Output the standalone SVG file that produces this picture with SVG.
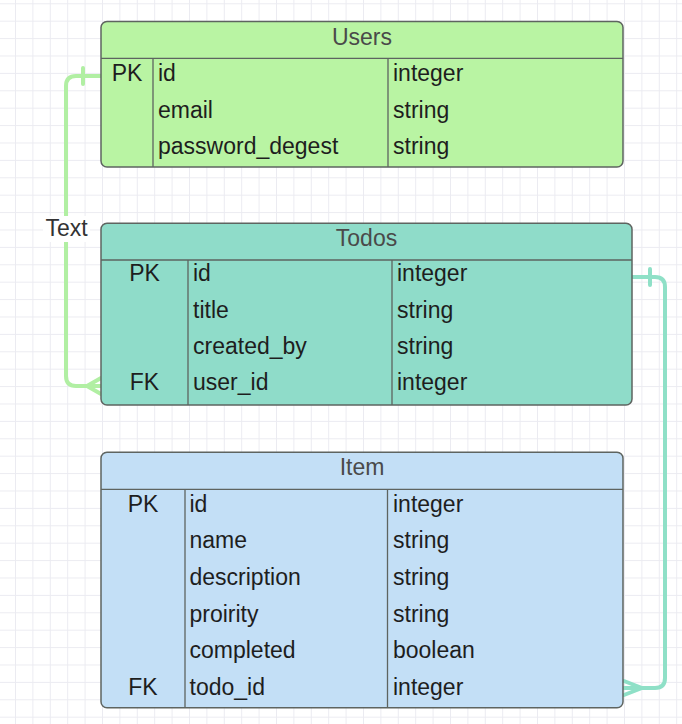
<svg xmlns="http://www.w3.org/2000/svg" width="682" height="724" viewBox="0 0 682 724">
  <defs>
    <pattern id="grid" patternUnits="userSpaceOnUse" x="15" y="3.3" width="17.4" height="17.4">
      <path d="M0,0.5 H17.4 M0.5,0 V17.4" fill="none" stroke="#ebebf1" stroke-width="1"/>
    </pattern>
    <style>
      .box { stroke: #5e6460; stroke-width: 1.5; }
      .div { stroke: #5e6460; stroke-width: 1.3; fill: none; }
      .t { font-family: "Liberation Sans", Arial, sans-serif; font-size: 23px; fill: #1e1e1e; }
      .h { font-family: "Liberation Sans", Arial, sans-serif; font-size: 23px; fill: #4a4a4a; text-anchor: middle; }
      .c { text-anchor: middle; }
      .con1 { fill: none; stroke: #b1efa3; stroke-width: 4; stroke-linecap: round; stroke-linejoin: round; }
      .con2 { fill: none; stroke: #8fe0c7; stroke-width: 4; stroke-linecap: round; stroke-linejoin: round; }
    </style>
  </defs>
  <rect width="682" height="724" fill="#ffffff"/>
  <rect width="682" height="724" fill="url(#grid)"/>

  <g id="connectors">
    <path class="con1" d="M101,76 H76 Q66,76 66,86 V376 Q66,386 76,386 H101"/>
    <path class="con1" d="M83,68 V84 M87,386 L101,378 M87,386 L101,394"/>
    <rect x="43" y="216" width="47" height="26" fill="#ffffff"/>
    <text class="t c" x="66.5" y="236" style="fill:#333333">Text</text>
    <path class="con2" d="M632,277 H655 Q665,277 665,287 V678 Q665,688 655,688 H624"/>
    <path class="con2" d="M650,269 V285 M642,688 L624,681 M642,688 L624,695"/>
  </g>

  <g id="users">
    <rect class="box" x="101" y="21.5" width="522" height="145.5" rx="6" fill="#b9f4a3"/>
    <path class="div" d="M101,58.3 H623 M153,58.3 V167 M388,58.3 V167"/>
    <text class="h" x="362" y="45">Users</text>
    <text class="t c" x="127" y="81">PK</text>
    <text class="t" x="158" y="81">id</text>
    <text class="t" x="393" y="81">integer</text>
    <text class="t" x="158" y="117.5">email</text>
    <text class="t" x="393" y="117.5">string</text>
    <text class="t" x="158" y="154">password_degest</text>
    <text class="t" x="393" y="154">string</text>
  </g>

  <g id="todos">
    <rect class="box" x="101" y="223.3" width="531" height="181.7" rx="6" fill="#8fdcc9"/>
    <path class="div" d="M101,260 H632 M188,260 V405 M392,260 V405"/>
    <text class="h" x="366.5" y="245.5">Todos</text>
    <text class="t c" x="144.5" y="281">PK</text>
    <text class="t" x="193" y="281">id</text>
    <text class="t" x="397" y="281">integer</text>
    <text class="t" x="193" y="317.5">title</text>
    <text class="t" x="397" y="317.5">string</text>
    <text class="t" x="193" y="354">created_by</text>
    <text class="t" x="397" y="354">string</text>
    <text class="t c" x="144.5" y="390">FK</text>
    <text class="t" x="193" y="390">user_id</text>
    <text class="t" x="397" y="390">integer</text>
  </g>

  <g id="item">
    <rect class="box" x="101" y="452.3" width="522" height="255.4" rx="6" fill="#c3dff6"/>
    <path class="div" d="M101,489.3 H623 M185,489.3 V707.7 M387.5,489.3 V707.7"/>
    <text class="h" x="362" y="475">Item</text>
    <text class="t c" x="143" y="511.7">PK</text>
    <text class="t" x="189.5" y="511.7">id</text>
    <text class="t" x="393" y="511.7">integer</text>
    <text class="t" x="189.5" y="548.3">name</text>
    <text class="t" x="393" y="548.3">string</text>
    <text class="t" x="189.5" y="584.5">description</text>
    <text class="t" x="393" y="584.5">string</text>
    <text class="t" x="189.5" y="621.5">proirity</text>
    <text class="t" x="393" y="621.5">string</text>
    <text class="t" x="189.5" y="658.3">completed</text>
    <text class="t" x="393" y="658.3">boolean</text>
    <text class="t c" x="143" y="695">FK</text>
    <text class="t" x="189.5" y="695">todo_id</text>
    <text class="t" x="393" y="695">integer</text>
  </g>
</svg>
